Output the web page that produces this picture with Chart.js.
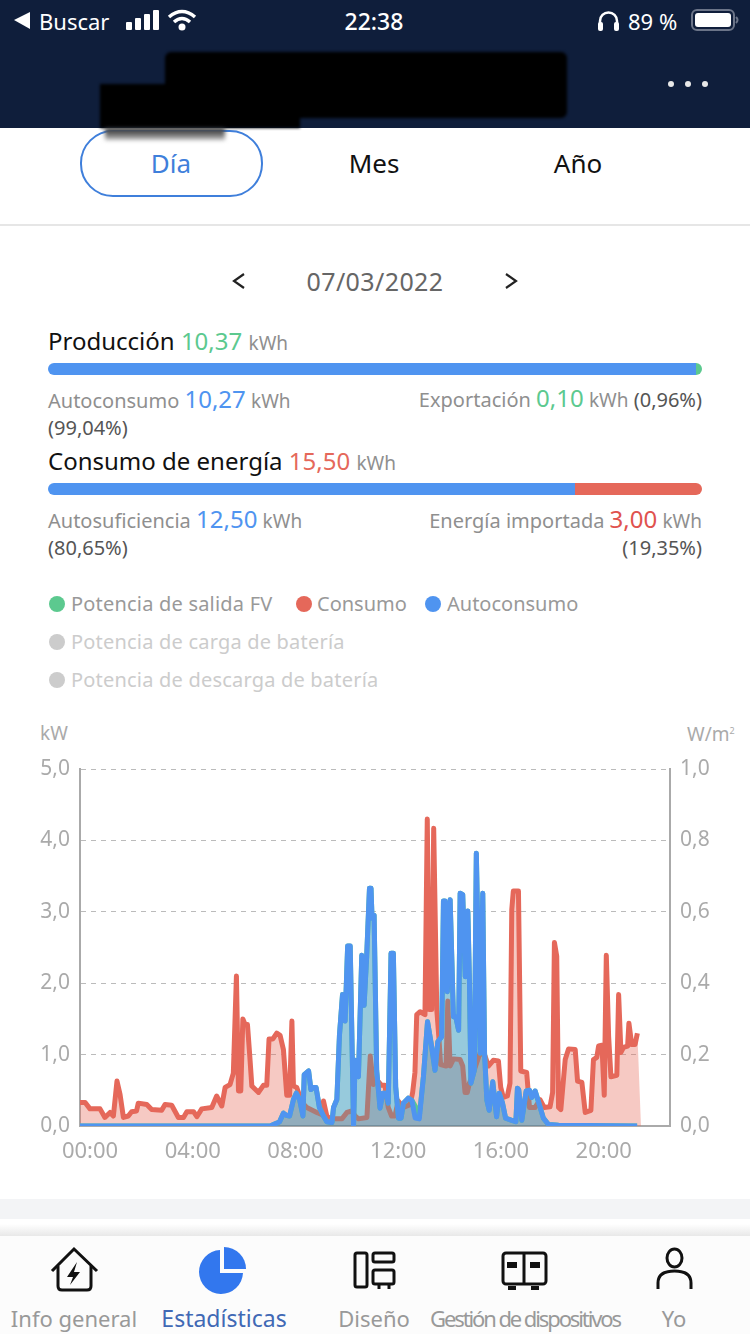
<!DOCTYPE html>
<html lang="es">
<head>
<meta charset="utf-8">
<title>Estadísticas</title>
<script src="https://cdn.jsdelivr.net/npm/chart.js@4/dist/chart.umd.min.js"></script>
<style>
  html, body { margin: 0; padding: 0; background: #fff; }
  body { position: relative; width: 750px; height: 1334px; overflow: hidden; font-family: "Noto Sans", Roboto, sans-serif; }
  .t { position: absolute; white-space: nowrap; line-height: 30px; height: 30px; }
  .r { text-align: right; }
  .c { transform: translateX(-50%); }
  .grey { color: #8f8f8f; font-size: 20px; }
  .dark { color: #111; font-size: 24px; }
  .pct { color: #555; font-size: 20px; }
  .num { font-size: 24px; }
  .unit { color: #8f8f8f; font-size: 19px; }
  .bar { position: absolute; left: 48px; width: 654px; height: 12px; border-radius: 6px; overflow: hidden; display: flex; }
  .dot { position: absolute; width: 16px; height: 16px; border-radius: 50%; }
  .legend { color: #999; font-size: 20px; letter-spacing: 0.2px; }
  #chartBox { position: absolute; left: 0; top: 710px; width: 750px; height: 470px; }
  svg { position: absolute; overflow: visible; }
  .tab { color: #999; font-size: 22px; }
</style>
</head>
<body>
<!-- header -->
<div style="position:absolute;left:0;top:0;width:750px;height:128px;background:#0f1e3b"></div>
<svg style="left:0;top:0" width="750" height="128">
  <path d="M14 20 L30 12 V29 Z" fill="#fff"/>
  <g fill="#fff">
    <rect x="126" y="22" width="6" height="8" rx="1"/>
    <rect x="135" y="18" width="6" height="12" rx="1"/>
    <rect x="144" y="14" width="6" height="16" rx="1"/>
    <rect x="153" y="10" width="6" height="20" rx="1"/>
    <circle cx="182" cy="27" r="3.5"/>
  </g>
  <g fill="none" stroke="#fff" stroke-width="3.5">
    <path d="M169 17 Q182 6 195 17"/>
    <path d="M174 22 Q182 15 190 22"/>
    <path d="M600 27 V21 A8.5 8.5 0 0 1 617 21 V27" stroke-width="2.5"/>
  </g>
  <rect x="598" y="22" width="5" height="9" rx="2" fill="#fff"/>
  <rect x="614" y="22" width="5" height="9" rx="2" fill="#fff"/>
  <rect x="692" y="10" width="42" height="20" rx="5" fill="none" stroke="#6b7488" stroke-width="2"/>
  <rect x="695" y="13" width="36" height="14" rx="3" fill="#fff"/>
  <path d="M736 17 Q739 20 736 23" fill="none" stroke="#6b7488" stroke-width="2"/>
  <circle cx="671" cy="84" r="3" fill="#e8e8e8"/><circle cx="688" cy="84" r="3" fill="#e8e8e8"/><circle cx="705" cy="84" r="3" fill="#e8e8e8"/>
</svg>
<div class="t" style="left:39px;top:6px;color:#fff;font-size:22px">Buscar</div>
<div class="t c" style="left:374px;top:6px;color:#fff;font-size:23px;font-weight:500">22:38</div>
<div class="t" style="left:628px;top:6px;color:#fff;font-size:22px">89 %</div>

<!-- tabs -->
<div style="position:absolute;left:80px;top:130px;width:179px;height:63px;border:2px solid #3f7fdb;border-radius:33px"></div>
<div class="t c" style="left:171px;top:148px;color:#3f7fdb;font-size:26px">Día</div>
<div class="t c" style="left:374px;top:148px;color:#111;font-size:26px">Mes</div>
<div class="t c" style="left:578px;top:148px;color:#111;font-size:26px">Año</div>
<div style="position:absolute;left:0;top:224px;width:750px;height:2px;background:#e6e6e6"></div>

<!-- redacted title -->
<div style="position:absolute;left:165px;top:52px;width:402px;height:66px;background:#000;border-radius:6px;filter:blur(1.5px)"></div>
<div style="position:absolute;left:100px;top:84px;width:200px;height:44px;background:#000;filter:blur(1.5px)"></div>
<div style="position:absolute;left:105px;top:128px;width:120px;height:12px;background:linear-gradient(#222,#bbb);filter:blur(2px)"></div>

<!-- date -->
<svg style="left:0;top:0" width="750" height="300" fill="none" stroke="#222" stroke-width="2.2">
  <path d="M244 274 L234 281 L244 288"/>
  <path d="M506 274 L516 281 L506 288"/>
</svg>
<div class="t c" style="left:375px;top:266px;color:#666;font-size:25px;letter-spacing:0.4px">07/03/2022</div>

<!-- summary -->
<div class="t dark" style="left:48px;top:326px">Producción <span class="num" style="color:#5cc98f">10,37</span> <span class="unit">kWh</span></div>
<div class="bar" style="top:363px"><div id="bar1a" style="background:#4f94f0"></div><div style="flex:1;background:#5cc98f"></div></div>
<div class="t grey" style="left:48px;top:384px">Autoconsumo <span class="num" style="color:#4f94f0">10,27</span> <span class="unit">kWh</span></div>
<div class="t grey r" style="right:48px;top:383px">Exportación <span class="num" style="color:#5cc98f">0,10</span> <span class="unit">kWh</span> <span class="pct">(0,96%)</span></div>
<div class="t pct" style="left:48px;top:413px">(99,04%)</div>

<div class="t dark" style="left:48px;top:446px">Consumo de energía <span class="num" style="color:#e5685a">15,50</span> <span class="unit">kWh</span></div>
<div class="bar" style="top:483px"><div id="bar2a" style="background:#4f94f0"></div><div style="flex:1;background:#e5685a"></div></div>
<div class="t grey" style="left:48px;top:504px">Autosuficiencia <span class="num" style="color:#4f94f0">12,50</span> <span class="unit">kWh</span></div>
<div class="t grey r" style="right:48px;top:504px">Energía importada <span class="num" style="color:#e0524e">3,00</span> <span class="unit">kWh</span></div>
<div class="t pct" style="left:48px;top:533px">(80,65%)</div>
<div class="t pct r" style="right:48px;top:533px">(19,35%)</div>

<!-- legend -->
<div class="dot" style="left:49px;top:596px;background:#5cc98f"></div>
<div class="t legend" style="left:71px;top:589px">Potencia de salida FV</div>
<div class="dot" style="left:296px;top:596px;background:#e5685a"></div>
<div class="t legend" style="left:317px;top:589px;letter-spacing:0">Consumo</div>
<div class="dot" style="left:425px;top:596px;background:#4f94f0"></div>
<div class="t legend" style="left:447px;top:589px;letter-spacing:0">Autoconsumo</div>
<div class="dot" style="left:49px;top:634px;background:#ccc"></div>
<div class="t legend" style="left:71px;top:627px;color:#ccc">Potencia de carga de batería</div>
<div class="dot" style="left:49px;top:672px;background:#ccc"></div>
<div class="t legend" style="left:71px;top:665px;color:#ccc">Potencia de descarga de batería</div>

<!-- chart -->
<div class="t" style="left:40px;top:718px;color:#aaa;font-size:19px">kW</div>
<div class="t" style="left:687px;top:716px;color:#aaa;font-size:19px">W/m<sup style="font-size:9px">2</sup></div>
<div id="chartBox"><canvas id="chart" width="750" height="470"></canvas></div>

<!-- bottom nav -->
<div style="position:absolute;left:0;top:1199px;width:750px;height:20px;background:#f3f4f6"></div>
<div style="position:absolute;left:0;top:1224px;width:750px;height:12px;background:linear-gradient(#fff,#e8e8e8)"></div>
<div style="position:absolute;left:0;top:1236px;width:750px;height:98px;background:#fcfcfc"></div>
<svg style="left:0;top:1236px" width="750" height="98" fill="none" stroke="#111" stroke-width="3">
  <path d="M52 35 L74 13 L97 35"/>
  <path d="M58 30 V50 Q58 54 62 54 H87 Q91 54 91 50 V30"/>
  <path d="M77 26 L67 41 H73 L70 49 L80 36 H74 Z" fill="#111" stroke="none"/>
  <path d="M224 11 A22 22 0 0 1 246 33 H224 Z" fill="#3277ee" stroke="none"/>
  <path d="M220 14 V37 H243 A22 22 0 1 1 220 14 Z" fill="#3277ee" stroke="none"/>
  <rect x="355" y="17" width="12" height="34" rx="2"/>
  <rect x="373" y="17" width="21" height="9" rx="2"/>
  <rect x="373" y="34" width="21" height="14" rx="2"/>
  <path d="M379 48 V53 M389 48 V53"/>
  <rect x="503" y="17" width="43" height="31" rx="3"/>
  <path d="M524 17 V48"/>
  <rect x="507" y="26" width="10" height="6" fill="#111" stroke="none"/>
  <rect x="530" y="26" width="10" height="6" fill="#111" stroke="none"/>
  <rect x="508" y="50" width="8" height="4" fill="#111" stroke="none"/>
  <rect x="531" y="50" width="8" height="4" fill="#111" stroke="none"/>
  <ellipse cx="674.500" cy="22" rx="7.500" ry="9"/>
  <path d="M658 53 V47 Q658 35 674.500 35 Q691 35 691 47 V53"/>
</svg>
<div class="t c tab" style="left:74px;top:1303px">Info general</div>
<div class="t c tab" style="left:224px;top:1303px;color:#4169b5;font-size:23px">Estadísticas</div>
<div class="t c tab" style="left:374px;top:1303px">Diseño</div>
<div class="t c tab" style="left:525px;top:1303px;letter-spacing:-2.1px">Gestión de dispositivos</div>
<div class="t c tab" style="left:674px;top:1303px">Yo</div>

<script>
// Hours from the left edge of the plot, kW on the left axis.
const consumoHours = [0, 0.2, 0.39, 0.78, 0.97, 1.17, 1.3, 1.44, 1.56, 1.69, 1.88, 2.01, 2.2, 2.27, 2.6, 2.79, 3.18, 3.31, 3.57, 3.83, 4.03, 4.16, 4.42, 4.55, 4.74, 5.13, 5.32, 5.52, 5.65, 5.84, 5.97, 6.09, 6.17, 6.26, 6.34, 6.43, 6.52, 6.6, 6.69, 6.95, 7.14, 7.27, 7.36, 7.51, 7.66, 7.79, 7.92, 8.05, 8.16, 8.25, 8.31, 8.44, 8.64, 8.83, 9.22, 9.42, 9.48, 9.61, 9.74, 10.2, 10.39, 10.58, 10.71, 10.84, 11.17, 11.3, 11.42, 11.55, 11.74, 11.87, 12.0, 12.13, 12.26, 12.39, 12.59, 12.85, 12.95, 13.04, 13.11, 13.24, 13.43, 13.52, 13.6, 13.69, 13.77, 13.89, 13.98, 14.04, 14.25, 14.32, 14.41, 14.54, 14.8, 14.9, 14.99, 15.08, 15.16, 15.32, 15.58, 15.77, 15.9, 16.09, 16.29, 16.38, 16.48, 16.64, 16.74, 16.81, 16.87, 17.07, 17.16, 17.39, 17.5, 17.72, 17.91, 18.07, 18.3, 18.4, 18.47, 18.56, 18.63, 18.72, 18.89, 19.02, 19.28, 19.37, 19.54, 19.67, 19.89, 19.99, 20.12, 20.19, 20.32, 20.41, 20.49, 20.58, 20.67, 20.9, 20.97, 21.06, 21.16, 21.32, 21.37, 21.48, 21.61, 21.7, 21.84];
const consumoKw = [0.33, 0.33, 0.24, 0.24, 0.12, 0.19, 0.14, 0.63, 0.44, 0.12, 0.14, 0.2, 0.21, 0.32, 0.3, 0.23, 0.22, 0.3, 0.29, 0.12, 0.12, 0.2, 0.2, 0.13, 0.24, 0.26, 0.42, 0.28, 0.54, 0.58, 0.74, 2.1, 0.49, 0.49, 1.5, 1.42, 1.42, 1.03, 0.56, 0.47, 0.57, 0.57, 1.22, 1.22, 1.3, 1.27, 1.07, 0.43, 0.43, 1.47, 0.56, 0.54, 0.33, 0.26, 0.19, 0.16, 0.35, 0.14, 0.1, 0.1, 0.19, 0.21, 0.14, 0.1, 0.12, 0.98, 0.58, 0.65, 0.57, 0.57, 0.26, 0.14, 0.14, 0.35, 0.26, 0.3, 0.47, 0.75, 1.56, 1.6, 1.56, 4.3, 1.63, 1.63, 4.17, 1.63, 1.2, 0.86, 0.84, 1.75, 0.84, 0.94, 0.93, 0.84, 0.47, 0.47, 0.6, 0.75, 1.03, 0.98, 0.84, 0.92, 0.91, 0.54, 0.4, 0.42, 0.6, 3.03, 3.29, 3.29, 0.77, 0.75, 0.26, 0.26, 0.37, 0.26, 0.27, 0.47, 2.57, 2.38, 0.26, 0.23, 0.93, 1.08, 1.07, 0.63, 0.61, 0.19, 0.22, 0.93, 0.96, 1.12, 1.13, 0.43, 2.39, 1.26, 0.69, 0.71, 1.84, 1.03, 1.1, 1.12, 1.44, 1.14, 1.14, 1.3, 0];
const autoHours = [0, 7.4, 7.66, 7.77, 7.92, 8.03, 8.16, 8.31, 8.42, 8.55, 8.68, 8.73, 8.9, 8.99, 9.09, 9.19, 9.32, 9.48, 9.61, 9.81, 9.87, 10, 10.1, 10.22, 10.32, 10.42, 10.52, 10.65, 10.71, 10.84, 10.97, 11.06, 11.16, 11.27, 11.33, 11.37, 11.45, 11.55, 11.68, 11.79, 11.92, 12.0, 12.11, 12.2, 12.29, 12.4, 12.5, 12.59, 12.78, 12.92, 13.05, 13.21, 13.37, 13.53, 13.67, 13.82, 13.93, 14.08, 14.15, 14.21, 14.3, 14.41, 14.54, 14.63, 14.74, 14.8, 14.9, 15, 15.1, 15.16, 15.22, 15.35, 15.43, 15.58, 15.68, 15.75, 15.84, 15.93, 16.07, 16.22, 16.32, 16.45, 16.57, 16.81, 16.97, 17.03, 17.08, 17.2, 17.37, 17.5, 17.59, 17.72, 17.85, 18.04, 18.24, 18.63, 21.69];
const autoKw = [0, 0, 0.04, 0.06, 0.18, 0.15, 0.14, 0.37, 0.46, 0.37, 0.14, 0.72, 0.77, 0.51, 0.54, 0.54, 0.26, 0.14, 0.06, 0.05, 0.26, 0.37, 1.26, 1.84, 1.47, 2.52, 2.52, 0.01, 0.92, 0.69, 2.39, 1.69, 2.37, 3.33, 3.33, 2.91, 2.95, 0.78, 0.25, 0.46, 0.46, 0.32, 2.42, 2.42, 0.55, 0.11, 0.11, 0.32, 0.39, 0.36, 0.11, 0.1, 0.69, 1.46, 1.16, 0.78, 1.18, 1.25, 3.15, 3.15, 1.88, 3.17, 1.53, 1.53, 1.34, 3.26, 3.24, 2.09, 3.01, 2.07, 0.6, 0.78, 3.82, 1.02, 3.26, 1.02, 0.36, 0.22, 0.62, 0.13, 0.46, 0.32, 0.11, 0.08, 0.06, 0.53, 0.51, 0.08, 0.49, 0.5, 0.4, 0.49, 0.34, 0.11, 0.02, 0.01, 0];
// FV output: same as self consumption except for the small export just before 13:00.
const fvKw = [0, 0, 0.04, 0.06, 0.18, 0.15, 0.14, 0.37, 0.46, 0.37, 0.14, 0.72, 0.77, 0.51, 0.54, 0.54, 0.26, 0.14, 0.06, 0.05, 0.26, 0.37, 1.26, 1.84, 1.47, 2.52, 2.52, 0.01, 0.92, 0.69, 2.39, 1.69, 2.37, 3.33, 3.33, 2.91, 2.95, 0.78, 0.25, 0.46, 0.46, 0.32, 2.42, 2.42, 0.55, 0.11, 0.11, 0.32, 0.39, 0.36, 0.28, 0.14, 0.69, 1.46, 1.16, 0.78, 1.18, 1.25, 3.15, 3.15, 1.88, 3.17, 1.53, 1.53, 1.34, 3.26, 3.24, 2.09, 3.01, 2.07, 0.6, 0.78, 3.82, 1.02, 3.26, 1.02, 0.36, 0.22, 0.62, 0.13, 0.46, 0.32, 0.11, 0.08, 0.06, 0.53, 0.51, 0.08, 0.49, 0.5, 0.4, 0.49, 0.34, 0.11, 0.02, 0.01, 0];
const xTickLabels = ['00:00', '04:00', '08:00', '12:00', '16:00', '20:00'];
const kwTickLabels = ['0,0', '1,0', '2,0', '3,0', '4,0', '5,0'];
const irrTickLabels = ['0,0', '0,2', '0,4', '0,6', '0,8', '1,0'];
const produccion = 10.37, autoconsumo = 10.27, consumo = 15.5, autosuficiencia = 12.5;

document.getElementById('bar1a').style.width = (autoconsumo / produccion * 100) + '%';
document.getElementById('bar2a').style.width = (autosuficiencia / consumo * 100) + '%';

function toPoints(hours, values) {
  return hours.map((h, i) => ({ x: h, y: values[i] }));
}

const consumoPoints = toPoints(consumoHours, consumoKw);
const autoPoints = toPoints(autoHours, autoKw);
const lastConsumo = consumoHours.length - 1;
const tickColor = '#aaaaaa';
const tickFont = { family: '"Noto Sans", Roboto, sans-serif', size: 21 };

// Layers, bottom to top: red fill, teal fill, red line, teal fill again, blue line.
// The red line shows through the overlap as brown, as in the app.
new Chart(document.getElementById('chart').getContext('2d'), {
  type: 'line',
  data: {
    datasets: [
      {
        label: 'Consumo (relleno)',
        data: consumoPoints,
        borderWidth: 0,
        backgroundColor: 'rgba(229,104,90,0.36)',
        fill: 'origin',
        order: 5,
      },
      {
        label: 'Autoconsumo (relleno)',
        data: autoPoints,
        borderWidth: 0,
        backgroundColor: 'rgba(0,82,159,0.22)',
        fill: 'origin',
        order: 4,
      },
      {
        label: 'Consumo',
        data: consumoPoints,
        borderColor: '#e5685a',
        order: 3,
        // last point only closes the fill down to the axis
        segment: { borderColor: (c) => (c.p1DataIndex === lastConsumo ? 'rgba(0,0,0,0)' : undefined) },
      },
      {
        label: 'Potencia de salida FV',
        data: toPoints(autoHours, fvKw),
        borderColor: '#5cc98f',
        order: 2,
      },
      {
        label: 'Autoconsumo',
        data: autoPoints,
        borderColor: '#4f94f0',
        backgroundColor: 'rgba(40,170,190,0.3)',
        fill: 'origin',
        order: 1,
      },
    ],
  },
  options: {
    responsive: false,
    animation: false,
    devicePixelRatio: 1,
    layout: { padding: { top: 59, left: 0, right: 0, bottom: 0 } },
    elements: {
      point: { radius: 0 },
      line: { borderWidth: 5, tension: 0, borderJoinStyle: 'round' },
    },
    plugins: { legend: { display: false }, tooltip: { enabled: false } },
    scales: {
      x: {
        type: 'linear',
        min: 0,
        max: 22.97,
        afterFit: (s) => { s.height = 54; },
        grid: { display: false },
        border: { display: true, color: '#aaaaaa', width: 2 },
        ticks: {
          stepSize: 4,
          includeBounds: false,
          maxRotation: 0,
          autoSkip: false,
          labelOffset: 10,
          padding: 5,
          color: tickColor,
          font: { family: tickFont.family, size: 22 },
          callback: (v, i) => xTickLabels[i],
        },
      },
      y: {
        position: 'left',
        min: 0,
        max: 5,
        afterFit: (s) => { s.width = 80; },
        grid: { color: '#bbbbbb', lineWidth: 1, drawTicks: false },
        border: { display: true, color: '#aaaaaa', width: 2, dash: [5, 5] },
        ticks: {
          stepSize: 1,
          padding: 10,
          color: tickColor,
          font: tickFont,
          callback: (v, i) => kwTickLabels[i],
        },
      },
      y1: {
        position: 'right',
        min: 0,
        max: 1,
        afterFit: (s) => { s.width = 80; },
        grid: { display: false },
        border: { display: true, color: '#aaaaaa', width: 2 },
        ticks: {
          stepSize: 0.2,
          padding: 2,
          color: tickColor,
          font: tickFont,
          callback: (v, i) => irrTickLabels[i],
        },
      },
    },
  },
});
</script>
</body>
</html>
